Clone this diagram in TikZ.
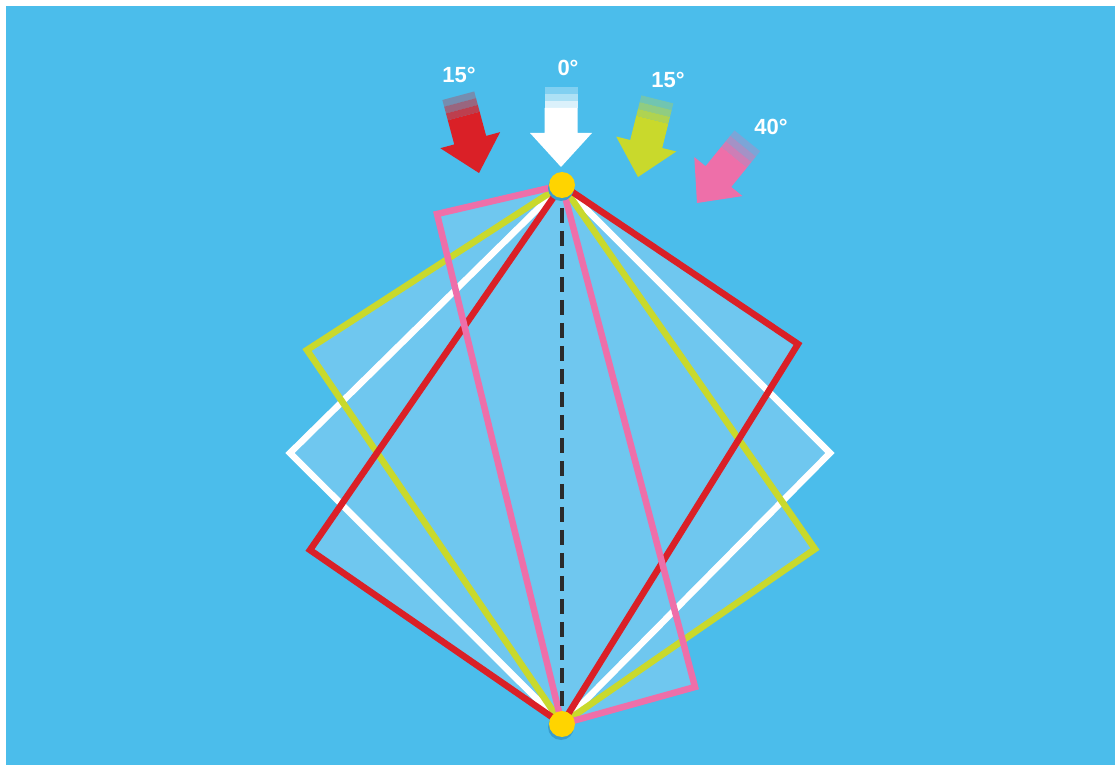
\documentclass[tikz,border=0pt]{standalone}
\usepackage{fontspec}
\setmainfont{Liberation Sans}
\usetikzlibrary{calc}
\definecolor{skyblue}{HTML}{4BBDEB}
\definecolor{paleblue}{HTML}{6FC7EF}
\definecolor{ruby}{HTML}{DA2027}
\definecolor{lime}{HTML}{C9D92C}
\definecolor{rose}{HTML}{EE6FA9}
\definecolor{gold}{HTML}{FFD400}
\definecolor{shade}{HTML}{3A9DCC}
\definecolor{ink}{HTML}{2B2B2B}

% fat arrow with faded tail: colour, tip, rotation
\newcommand{\fatarrow}[3]{
    \begin{scope}[shift={#2}, rotate=#3]
        \fill[#1] (-16.5,-59) -- (-16.5,-34) -- (-31,-34) -- (0,0)
            -- (31,-34) -- (16.5,-34) -- (16.5,-59) -- cycle;
        \fill[#1, opacity=0.8] (-16.5,-66) rectangle (16.5,-59);
        \fill[#1, opacity=0.55] (-16.5,-73) rectangle (16.5,-66);
        \fill[#1, opacity=0.3] (-16.5,-80) rectangle (16.5,-73);
    \end{scope}
}

\begin{document}
\begin{tikzpicture}[x=0.02cm, y=-0.02cm,
    frame/.style={line width=3.7pt, line join=miter},
    dot/.style={circle, fill=gold, inner sep=0pt, minimum size=0.52cm},
    dotshade/.style={circle, fill=shade, inner sep=0pt, minimum size=0.52cm},
    angle/.style={white, font=\bfseries\fontsize{12.5}{14}\selectfont}]

        \useasboundingbox (0,0) rectangle (1117,767);
        \fill[skyblue] (6,6) rectangle (1115,765);

        % Define points
        \coordinate (T) at (562,185);
        \coordinate (B) at (562,724);
        \coordinate (W1) at (290,453);
        \coordinate (W2) at (830,453);
        \coordinate (Y1) at (307,350);
        \coordinate (Y2) at (815,549);
        \coordinate (R1) at (310,550);
        \coordinate (R2) at (798,344);
        \coordinate (P1) at (437,214);
        \coordinate (P2) at (695,687);

        % Covered area
        \foreach \a/\b in {W1/W2, Y1/Y2, R1/R2, P1/P2} {
            \fill[paleblue] (T) -- (\a) -- (B) -- (\b) -- cycle;
        }

        % Rectangles on the common diagonal
        \draw[frame, white] (T) -- (W1) -- (B) -- (W2) -- cycle;
        \draw[frame, lime] (T) -- (Y1) -- (B) -- (Y2) -- cycle;
        \draw[frame, ruby] (T) -- (R1) -- (B) -- (R2) -- cycle;
        \draw[frame, rose] (T) -- (P1) -- (B) -- (P2) -- cycle;

        % Diagonal
        \draw[ink, line width=2.3pt, dash pattern=on 0.3cm off 0.16cm] (T) -- (B);

        % End points
        \foreach \pt in {T, B} {
            \node[dotshade] (shade\pt) at ($(\pt)+(-1,3)$) {};
            \node[dot] (dot\pt) at (\pt) {};
        }

        % Light directions
        \fatarrow{ruby}{(479,173)}{15}
        \fatarrow{white}{(561,167)}{0}
        \fatarrow{lime}{(638,177)}{-14}
        \fatarrow{rose}{(697,203)}{-39}

        \node[angle] (redlbl) at (459,75) {15°};
        \node[angle] (whitelbl) at (568,68) {0°};
        \node[angle] (limelbl) at (668,80) {15°};
        \node[angle] (roselbl) at (771,127) {40°};
    \end{tikzpicture}
\end{document}
